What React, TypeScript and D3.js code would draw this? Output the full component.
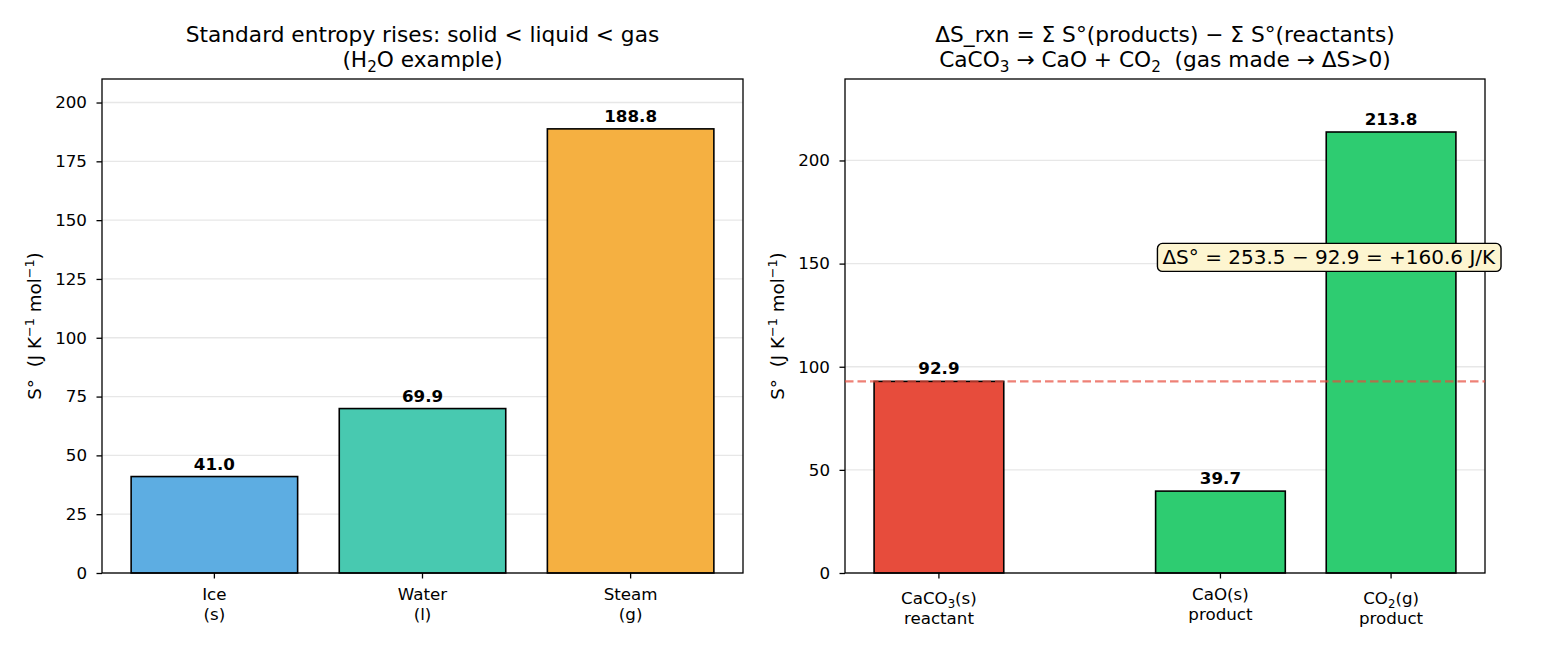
import * as React from 'react'
import { useEffect, useRef } from 'react'
import * as d3 from 'd3'

// left panel: phases of water
const phaseLabels = [['Ice', '(s)'], ['Water', '(l)'], ['Steam', '(g)']]
const phaseValues = [41.0, 69.9, 188.8]
const phaseColors = ['#5dade2', '#48c9b0', '#f5b041']
const leftTicks = [0, 25, 50, 75, 100, 125, 150, 175, 200]

// right panel: CaCO3 decomposition
const rxnLabels = [['CaCO_{3}(s)', 'reactant'], ['CaO(s)', 'product'], ['CO_{2}(g)', 'product']]
const rxnPositions = [0, 1.65, 2.65]
const rxnValues = [92.9, 39.7, 213.8]
const rxnColors = ['#e74c3c', '#2ecc71', '#2ecc71']
const rightTicks = [0, 50, 100, 150, 200]
const reactantSum = 92.9
const annotation = 'ΔS° = 253.5 − 92.9 = +160.6 J/K'

const FONT = '"DejaVu Sans", sans-serif'
const TICK_FS = 16.7
const TITLE_FS = 21.7
const LABEL_FS = 18.3

// text with _{sub} / ^{sup} markup
function rich(sel: any, str: string, fs: number) {
  sel.attr('xml:space', 'preserve')
  const parts = str.split(/(_\{[^}]*\}|\^\{[^}]*\})/).filter(p => p !== '')
  let shift = 0
  parts.forEach(p => {
    let txt = p
    let target = 0
    let size = fs
    if (p.startsWith('_{')) { txt = p.slice(2, -1); target = fs * 0.22; size = fs * 0.7 }
    else if (p.startsWith('^{')) { txt = p.slice(2, -1); target = -fs * 0.4; size = fs * 0.7 }
    sel.append('tspan').attr('dy', target - shift).attr('font-size', size).text(txt)
    shift = target
  })
}

interface Panel {
  x0: number
  x1: number
  xDomain: [number, number]
  yMax: number
  positions: number[]
  values: number[]
  colors: string[]
  labels: string[][]
  ticks: number[]
  barWidth: number
  title: string[]
}

const App = () => {
  const ref = useRef<SVGSVGElement | null>(null)

  useEffect(() => {
    const svg = d3.select(ref.current)
    svg.selectAll('*').remove()
    const top = 79
    const bottom = 573

    const drawPanel = (p: Panel) => {
      const x = d3.scaleLinear().domain(p.xDomain).range([p.x0, p.x1])
      const y = d3.scaleLinear().domain([0, p.yMax]).range([bottom, top])
      const g = svg.append('g')

      // grid
      g.selectAll('.grid').data(p.ticks).enter().append('line')
        .attr('x1', p.x0).attr('x2', p.x1)
        .attr('y1', d => y(d)).attr('y2', d => y(d))
        .attr('stroke', '#b0b0b0').attr('stroke-opacity', 0.3).attr('stroke-width', 1.3)

      // bars
      const bw = x(p.barWidth) - x(0)
      g.selectAll('.bar').data(p.values).enter().append('rect')
        .attr('x', (d, i) => x(p.positions[i]) - bw / 2)
        .attr('y', d => y(d))
        .attr('width', bw)
        .attr('height', d => bottom - y(d))
        .attr('fill', (d, i) => p.colors[i])
        .attr('stroke', '#000').attr('stroke-width', 1.6)

      g.selectAll('.val').data(p.values).enter().append('text')
        .attr('x', (d, i) => x(p.positions[i]))
        .attr('y', d => y(d) - 7)
        .attr('text-anchor', 'middle')
        .attr('font-weight', 'bold').attr('font-size', TICK_FS)
        .text(d => d.toFixed(1))

      // y axis
      const ya = g.append('g').attr('transform', `translate(${p.x0},0)`)
        .call(d3.axisLeft(y).tickValues(p.ticks).tickSize(5.5).tickPadding(9.5).tickFormat(d3.format('d')))
      ya.select('.domain').remove()
      ya.selectAll('text').attr('font-size', TICK_FS).attr('font-family', FONT).attr('fill', '#000')
      ya.selectAll('line').attr('stroke', '#000').attr('stroke-width', 1.3)

      // x ticks
      p.positions.forEach((pos, i) => {
        const cx = x(pos)
        g.append('line').attr('x1', cx).attr('x2', cx).attr('y1', bottom).attr('y2', bottom + 5.5)
          .attr('stroke', '#000').attr('stroke-width', 1.3)
        const hasSub = p.labels[i].some(l => l.includes('_{'))
        p.labels[i].forEach((line, j) => {
          const t = g.append('text').attr('x', cx).attr('y', bottom + 27 + j * 20 + (hasSub ? 4 : 0))
            .attr('text-anchor', 'middle').attr('font-size', TICK_FS)
          rich(t, line, TICK_FS)
        })
      })

      // frame
      g.append('rect').attr('x', p.x0).attr('y', top).attr('width', p.x1 - p.x0).attr('height', bottom - top)
        .attr('fill', 'none').attr('stroke', '#000').attr('stroke-width', 1.3)

      // y label
      const yl = g.append('text')
        .attr('transform', `translate(${p.x0 - 61},${(top + bottom) / 2}) rotate(-90)`)
        .attr('text-anchor', 'middle').attr('font-size', LABEL_FS)
      rich(yl, 'S°  (J K^{−1} mol^{−1})', LABEL_FS)

      // title
      p.title.forEach((line, j) => {
        const t = g.append('text').attr('x', (p.x0 + p.x1) / 2).attr('y', 42 + j * 25)
          .attr('text-anchor', 'middle').attr('font-size', TITLE_FS)
        rich(t, line, TITLE_FS)
      })
      return { x, y, g }
    }

    drawPanel({
      x0: 102, x1: 743, xDomain: [-0.54, 2.54], yMax: 210,
      positions: phaseValues.map((_, i) => i), values: phaseValues, colors: phaseColors,
      labels: phaseLabels, ticks: leftTicks, barWidth: 0.8,
      title: ['Standard entropy rises: solid < liquid < gas', '(H_{2}O example)'],
    })

    const right = drawPanel({
      x0: 845, x1: 1485, xDomain: [-0.5505, 3.2005], yMax: 239.5,
      positions: rxnPositions, values: rxnValues, colors: rxnColors,
      labels: rxnLabels, ticks: rightTicks, barWidth: 0.76,
      title: ['ΔS_rxn = Σ S°(products) − Σ S°(reactants)', 'CaCO_{3} → CaO + CO_{2}  (gas made → ΔS>0)'],
    })

    // reactant reference line
    right.g.append('line')
      .attr('x1', 845).attr('x2', 1485)
      .attr('y1', right.y(reactantSum)).attr('y2', right.y(reactantSum))
      .attr('stroke', '#e74c3c').attr('stroke-opacity', 0.7)
      .attr('stroke-width', 2.4).attr('stroke-dasharray', '8.5,4')

    // annotation box
    const ax = right.x(2.285)
    const ay = right.y(153)
    const at = right.g.append('text').attr('x', ax).attr('y', ay + 7)
      .attr('text-anchor', 'middle').attr('font-size', 20).text(annotation)
    const bb = (at.node() as SVGTextElement).getBBox()
    right.g.insert('rect', () => at.node())
      .attr('x', bb.x - 5).attr('y', ay - 14).attr('width', bb.width + 10).attr('height', 28)
      .attr('rx', 5).attr('fill', '#fdf5d0').attr('stroke', '#000').attr('stroke-width', 1.4)
  }, [])

  return (
    <svg ref={ref} width={1560} height={650}
      style={{ position: 'absolute', left: 0, top: 0, display: 'block', fontFamily: FONT, background: '#fff' }} />
  )
}

export default App
